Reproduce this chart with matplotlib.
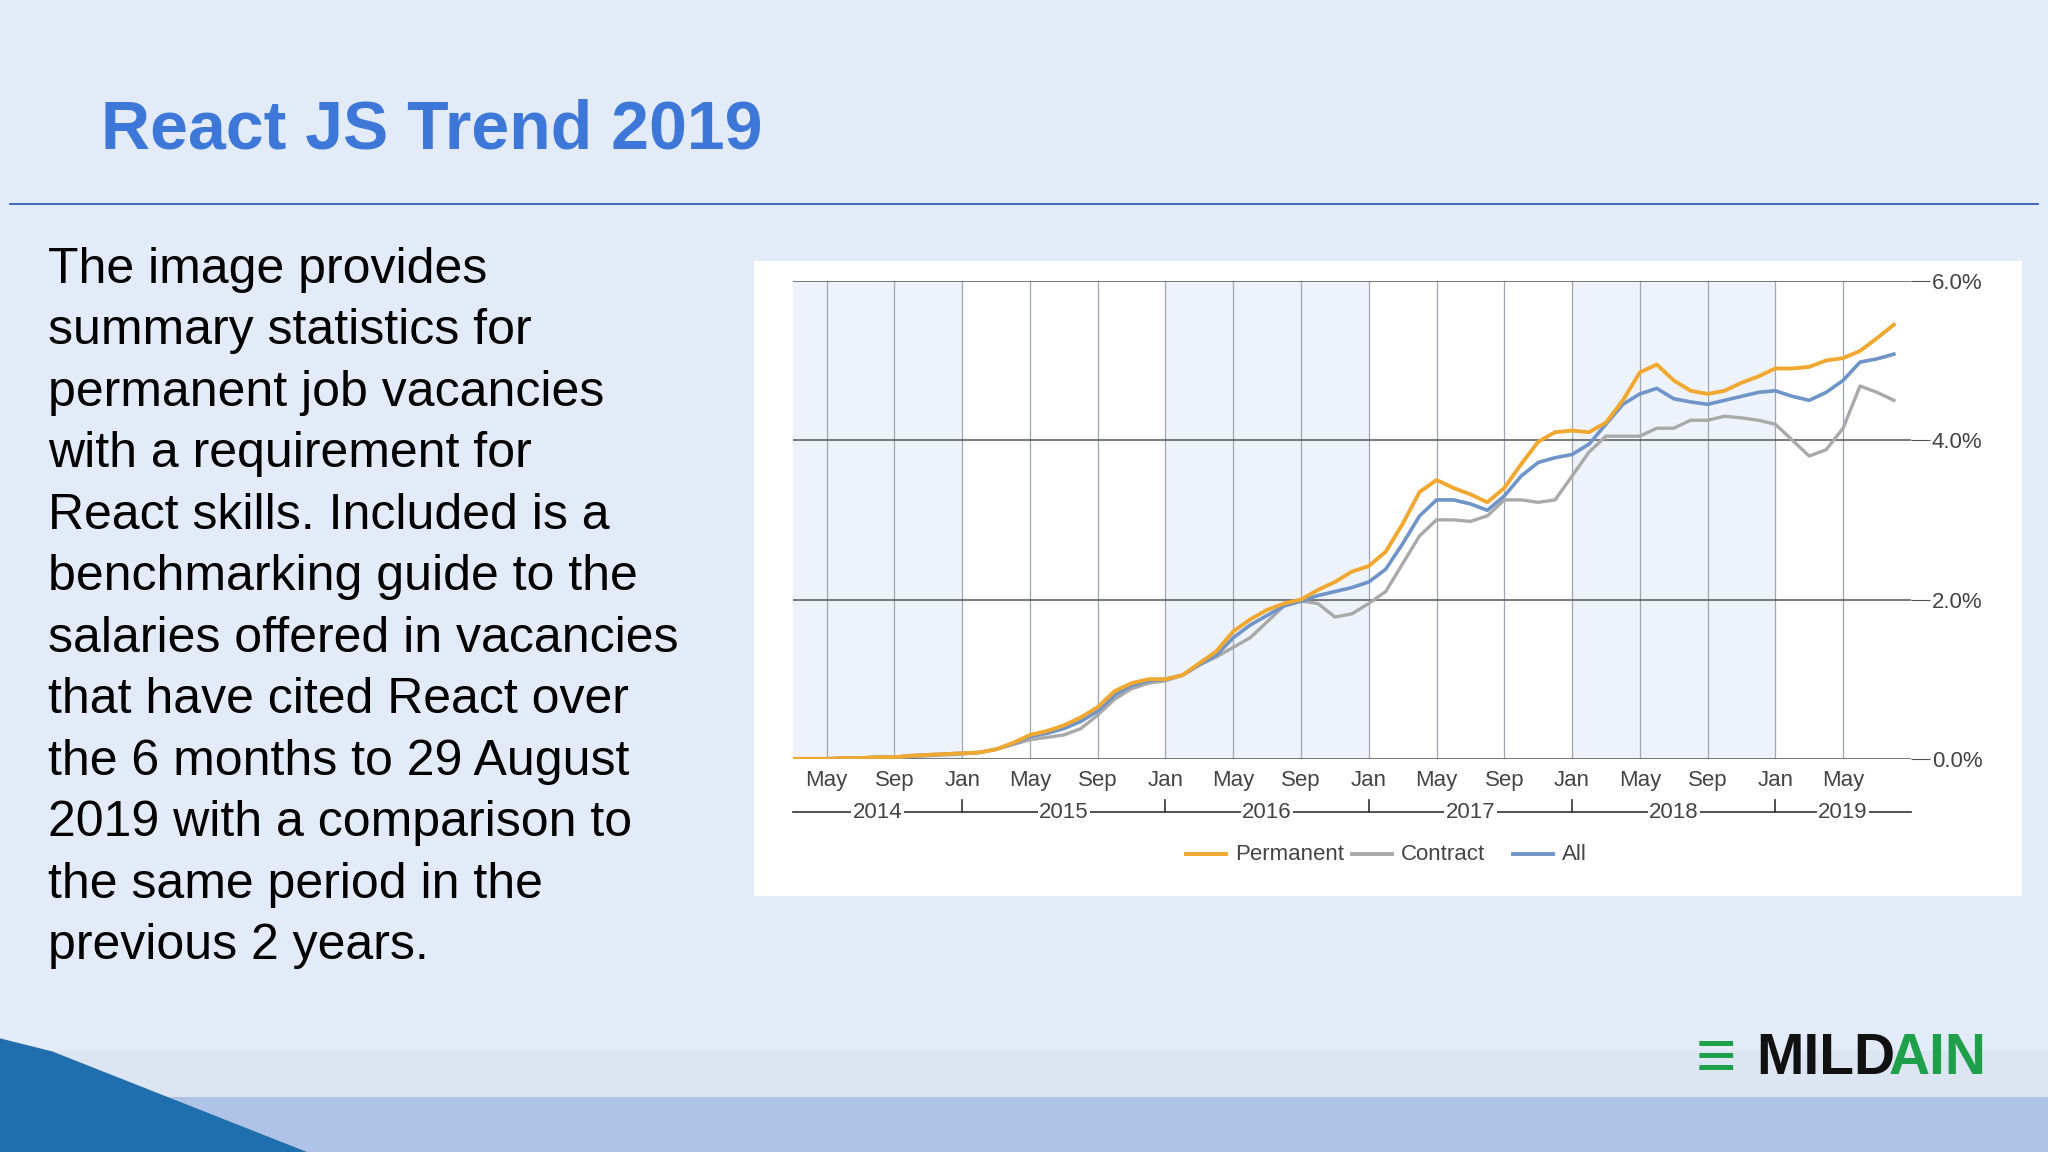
import numpy as np
import matplotlib.pyplot as plt
from matplotlib.patches import Rectangle, Polygon
import matplotlib.transforms as mtransforms

# ---------------- data (monthly, Mar 2014 .. Aug 2019) ----------------
permanent = [0.00, 0.00, 0.00, 0.01, 0.01, 0.02, 0.02, 0.04, 0.05, 0.06, 0.07, 0.08,
             0.12, 0.20, 0.30, 0.35, 0.42, 0.52, 0.65, 0.85, 0.95, 1.00, 1.00, 1.05,
             1.20, 1.35, 1.60, 1.75, 1.87, 1.95, 2.00, 2.12, 2.22, 2.35, 2.42, 2.60,
             2.95, 3.35, 3.50, 3.40, 3.32, 3.22, 3.40, 3.70, 3.98, 4.10, 4.12, 4.10,
             4.22, 4.50, 4.85, 4.95, 4.75, 4.62, 4.58, 4.62, 4.72, 4.80, 4.90, 4.90,
             4.92, 5.00, 5.03, 5.12, 5.28, 5.45]
all_jobs = [0.00, 0.00, 0.00, 0.01, 0.01, 0.02, 0.02, 0.04, 0.05, 0.06, 0.07, 0.08,
            0.12, 0.19, 0.28, 0.32, 0.38, 0.47, 0.60, 0.80, 0.92, 0.98, 1.00, 1.05,
            1.18, 1.30, 1.52, 1.68, 1.80, 1.92, 1.98, 2.05, 2.10, 2.15, 2.22, 2.38,
            2.70, 3.05, 3.25, 3.25, 3.20, 3.12, 3.30, 3.55, 3.72, 3.78, 3.82, 3.95,
            4.20, 4.45, 4.58, 4.65, 4.52, 4.48, 4.45, 4.50, 4.55, 4.60, 4.62, 4.55,
            4.50, 4.60, 4.75, 4.98, 5.02, 5.08]
contract = [0.00, 0.00, 0.00, 0.01, 0.01, 0.02, 0.02, 0.03, 0.04, 0.05, 0.06, 0.08,
            0.12, 0.18, 0.24, 0.27, 0.30, 0.38, 0.55, 0.75, 0.88, 0.95, 0.98, 1.05,
            1.18, 1.28, 1.40, 1.52, 1.72, 1.92, 1.98, 1.95, 1.78, 1.82, 1.95, 2.10,
            2.45, 2.80, 3.00, 3.00, 2.98, 3.05, 3.25, 3.25, 3.22, 3.25, 3.55, 3.85,
            4.05, 4.05, 4.05, 4.15, 4.15, 4.25, 4.25, 4.30, 4.28, 4.25, 4.20, 4.00,
            3.80, 3.88, 4.15, 4.68, 4.60, 4.50]
month_labels = ["May", "Sep", "Jan"] * 5 + ["May"]
years = ["2014", "2015", "2016", "2017", "2018", "2019"]
y_ticks = [0, 2, 4, 6]

months = np.arange(len(permanent))   # 0 = Mar 2014

W, H = 1568, 882   # layout in reference pixels
def fx(px): return px / W
def fy(py): return 1 - py / H

BG = "#e3eaf8"
plt.rcParams["font.family"] = "Liberation Sans"
fig = plt.figure(figsize=(20.48, 11.52), dpi=100, facecolor=BG)

# ---------------- slide decoration ----------------
fig.text(fx(77), fy(100), "React JS Trend 2019", color="#3d78d8", fontsize=49,
         fontweight="bold", va="center", ha="left")
fig.add_artist(plt.Line2D([fx(8), fx(1560)], [fy(156), fy(156)], color="#2f5fb0", lw=1.3))

para = ("The image provides\nsummary statistics for\npermanent job vacancies\n"
        "with a requirement for\nReact skills. Included is a\nbenchmarking guide to the\n"
        "salaries offered in vacancies\nthat have cited React over\nthe 6 months to 29 August\n"
        "2019 with a comparison to\nthe same period in the\nprevious 2 years.")
fig.text(fx(37), fy(189), para, fontsize=36, va="top", ha="left", color="black",
         linespacing=1.43)

fig.add_artist(Rectangle((0, fy(840)), 1, fy(805) - fy(840), transform=fig.transFigure,
                         color="#dde4f2", lw=0, zorder=-2))
fig.add_artist(Rectangle((0, 0), 1, fy(840), transform=fig.transFigure,
                         color="#aec3e5", lw=0, zorder=-2))
fig.add_artist(Polygon([[0, fy(795)], [fx(40), fy(805)], [fx(235), 0], [0, 0]],
                       transform=fig.transFigure, color="#1f6fae", lw=0, zorder=-1))
fig.text(fx(1345), fy(811), "MILD", fontsize=41, fontweight="bold", color="#111111",
         va="center", ha="left")
fig.text(fx(1446), fy(811), "AIN", fontsize=41, fontweight="bold", color="#1ea04a",
         va="center", ha="left")
fig.text(fx(1298), fy(811), "\u2261", fontsize=50, fontweight="bold", color="#1ea04a",
         va="center", ha="left")

# chart panel
fig.add_artist(Rectangle((fx(577), fy(686)), fx(1548) - fx(577), fy(200) - fy(686),
                         transform=fig.transFigure, color="white", lw=0, zorder=-1))

# ---------------- chart ----------------
ax = fig.add_axes([fx(607), fy(581), fx(1463) - fx(607), fy(215) - fy(581)])
ax.set_zorder(2)
ax.set_facecolor("white")
ax.set_xlim(0, 66)
ax.set_ylim(0, 6)

# alternating year bands
for i in range(len(years)):
    start = max(0, -2 + 12 * i)
    end = min(66, 10 + 12 * i)
    if i % 2 == 0:
        ax.axvspan(start, end, color="#eef3fb", lw=0, zorder=0)

tick_pos = np.arange(2, 66, 4)
for x in tick_pos:
    ax.axvline(x, color="#a0a6b0", lw=0.9, zorder=1)
for y in y_ticks:
    ax.axhline(y, color="#555555", lw=1.1, zorder=1)

ax.plot(months, contract, color="#a9a9a9", lw=2.4, zorder=3)
ax.plot(months, all_jobs, color="#6f94c8", lw=2.6, zorder=4)
ax.plot(months, permanent, color="#f0a830", lw=2.8, zorder=5)

for s in ax.spines.values():
    s.set_visible(False)
ax.set_xticks([])
ax.yaxis.tick_right()
ax.set_yticks(y_ticks)
ax.set_yticklabels([f"{v:.1f}%" for v in y_ticks], fontsize=16, color="#444444")
ax.tick_params(axis="y", length=14, color="#555555", pad=1)

trans = mtransforms.blended_transform_factory(ax.transData, ax.transAxes)
for x, lab in zip(tick_pos, month_labels):
    ax.text(x, -0.045, lab, transform=trans, ha="center", va="center",
            fontsize=16, color="#444444")
yr_y = -0.112
ax.plot([0, 66], [yr_y, yr_y], transform=trans, color="#333333", lw=1.2, clip_on=False)
for x in [10, 22, 34, 46, 58]:
    ax.plot([x, x], [yr_y, yr_y + 0.025], transform=trans, color="#333333", lw=1.2,
            clip_on=False)
for i, yr in enumerate(years):
    start = max(0, -2 + 12 * i)
    end = min(66, 10 + 12 * i)
    ax.text((start + end) / 2, yr_y, yr, transform=trans, ha="center", va="center",
            fontsize=16, color="#444444",
            bbox=dict(facecolor="white", edgecolor="none", pad=1))

# legend
leg_y = -0.2
items = [("Permanent", "#f0a830", 23.2), ("Contract", "#a9a9a9", 33.0), ("All", "#6f94c8", 42.5)]
for lab, col, x0 in items:
    ax.plot([x0, x0 + 2.4], [leg_y, leg_y], transform=trans, color=col, lw=2.8,
            clip_on=False)
    ax.text(x0 + 2.9, leg_y, lab, transform=trans, ha="left", va="center",
            fontsize=16, color="#444444")

fig.savefig("out.png", dpi=100, facecolor=BG)
